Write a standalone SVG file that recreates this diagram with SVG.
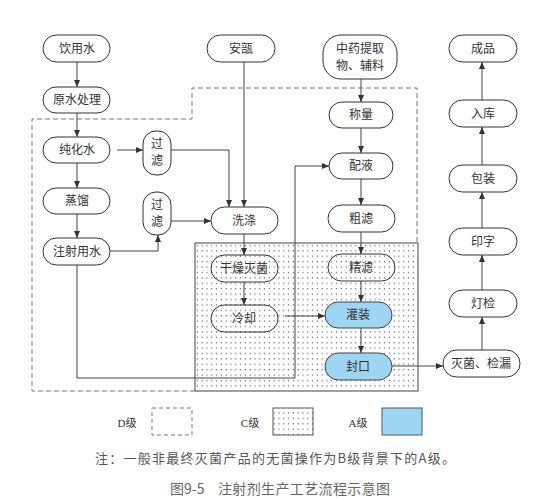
<svg xmlns="http://www.w3.org/2000/svg" width="537" height="502" viewBox="0 0 537 502">
<style>
.n{fill:#fff;stroke:#333;stroke-width:1}
.nc{fill:none;stroke:#333;stroke-width:1}
.na{fill:#9dd5f2;stroke:#444;stroke-width:1}
.t{font-family:"Noto Sans CJK SC","Liberation Serif",serif;font-size:12px;fill:#333;text-anchor:middle}
.c{fill:none;stroke:#444;stroke-width:1}
.lg{font-family:"Liberation Serif","Noto Sans CJK SC",serif;font-size:11px;fill:#333}
</style>
<defs>
<pattern id="dots" x="195" y="243" width="4.8" height="5.4" patternUnits="userSpaceOnUse">
<rect x="1.8" y="2" width="1.1" height="1.1" fill="#444"/>
</pattern>
<marker id="ar" markerWidth="7" markerHeight="6" refX="7" refY="3" orient="auto" markerUnits="userSpaceOnUse">
<path d="M0,0 L7,3 L0,6 z" fill="#333"/>
</marker>
</defs>
<rect width="537" height="502" fill="#fff"/>
<g id="zones">
<rect x="195" y="243" width="223" height="148" fill="url(#dots)" stroke="#666" stroke-width="1.2"/>
<path d="M195,391 H32 V119 H192 V88 H417 V243" fill="none" stroke="#777" stroke-width="1" stroke-dasharray="5,3"/>
</g>
<g id="connectors">
<path class="c" marker-end="url(#ar)" d="M77,62 V87"/>
<path class="c" marker-end="url(#ar)" d="M77,113 V137"/>
<path class="c" marker-end="url(#ar)" d="M77,163 V188"/>
<path class="c" marker-end="url(#ar)" d="M77,214 V238"/>
<path class="c" marker-end="url(#ar)" d="M117,150 H143"/>
<path class="c" marker-end="url(#ar)" d="M171,150 H229 V207"/>
<path class="c" marker-end="url(#ar)" d="M244,62 V207"/>
<path class="c" marker-end="url(#ar)" d="M110,251 H158 V235"/>
<path class="c" marker-end="url(#ar)" d="M171,221 H211"/>
<path class="c" marker-end="url(#ar)" d="M77,265 V378 H295 V166 H329"/>
<path class="c" marker-end="url(#ar)" d="M244,234 V255"/>
<path class="c" marker-end="url(#ar)" d="M244,282 V305"/>
<path class="c" marker-end="url(#ar)" d="M285,316 H325"/>
<path class="c" marker-end="url(#ar)" d="M361,79 V102"/>
<path class="c" marker-end="url(#ar)" d="M361,128 V153"/>
<path class="c" marker-end="url(#ar)" d="M361,179 V205"/>
<path class="c" marker-end="url(#ar)" d="M361,232 V254"/>
<path class="c" marker-end="url(#ar)" d="M361,281 V302"/>
<path class="c" marker-end="url(#ar)" d="M361,328 V353"/>
<path class="c" marker-end="url(#ar)" d="M392,366 H443"/>
<path class="c" marker-end="url(#ar)" d="M482,350 V317"/>
<path class="c" marker-end="url(#ar)" d="M482,290 V255"/>
<path class="c" marker-end="url(#ar)" d="M482,228 V192"/>
<path class="c" marker-end="url(#ar)" d="M482,165 V127"/>
<path class="c" marker-end="url(#ar)" d="M482,100 V62"/>
</g>
<g id="yinyongshui"><rect class="n" x="43" y="35" width="67" height="27" rx="13.5"/><text class="t" x="77" y="53">饮用水</text></g>
<g id="yuanshui"><rect class="n" x="43" y="87" width="67" height="26" rx="13"/><text class="t" x="77" y="104">原水处理</text></g>
<g id="chunhuashui"><rect class="n" x="43" y="137" width="67" height="26" rx="13"/><text class="t" x="77" y="154">纯化水</text></g>
<g id="zhengliu"><rect class="n" x="43" y="188" width="67" height="26" rx="13"/><text class="t" x="77" y="205">蒸馏</text></g>
<g id="zhusheyongshui"><rect class="n" x="43" y="238" width="67" height="27" rx="13.5"/><text class="t" x="77" y="256">注射用水</text></g>
<g id="guolv1"><rect class="n" x="143" y="131" width="28" height="44" rx="13"/><text class="t" x="157" y="148" font-size="11">过</text><text class="t" x="157" y="165" font-size="11">滤</text></g>
<g id="guolv2"><rect class="n" x="143" y="192" width="28" height="43" rx="13"/><text class="t" x="157" y="209" font-size="11">过</text><text class="t" x="157" y="226" font-size="11">滤</text></g>
<g id="anbu"><rect class="n" x="207" y="35" width="68" height="27" rx="13.5"/><text class="t" x="241" y="53">安瓿</text></g>
<g id="xidi"><rect class="n" x="211" y="207" width="67" height="27" rx="13.5"/><text class="t" x="244" y="225">洗涤</text></g>
<g id="ganzao"><rect class="nc" x="211" y="255" width="67" height="27" rx="13.5"/><text class="t" x="244" y="273">干燥灭菌</text></g>
<g id="lengque"><rect class="nc" x="211" y="305" width="67" height="27" rx="13.5"/><text class="t" x="244" y="323">冷却</text></g>
<g id="zhongyao"><rect class="n" x="323" y="35" width="74" height="44" rx="18"/><text class="t" x="360" y="53" font-size="11.5">中药提取</text><text class="t" x="360" y="70" font-size="11.5">物、辅料</text></g>
<g id="chengliang"><rect class="n" x="329" y="102" width="64" height="26" rx="13"/><text class="t" x="361" y="119">称量</text></g>
<g id="peiye"><rect class="n" x="329" y="153" width="64" height="26" rx="13"/><text class="t" x="361" y="170">配液</text></g>
<g id="culv"><rect class="n" x="328" y="205" width="67" height="27" rx="13.5"/><text class="t" x="361" y="223">粗滤</text></g>
<g id="jinglv"><rect class="nc" x="328" y="254" width="67" height="27" rx="13.5"/><text class="t" x="361" y="272">精滤</text></g>
<g id="guanzhuang"><rect class="na" x="325" y="302" width="67" height="26" rx="13"/><text class="t" x="358" y="319">灌装</text></g>
<g id="fengkou"><rect class="na" x="325" y="353" width="67" height="27" rx="13.5"/><text class="t" x="358" y="371">封口</text></g>
<g id="miejun"><rect class="n" x="443" y="350" width="77" height="27" rx="13.5"/><text class="t" x="481" y="368">灭菌、检漏</text></g>
<g id="dengjian"><rect class="n" x="449" y="290" width="68" height="27" rx="13.5"/><text class="t" x="483" y="308">灯检</text></g>
<g id="yinzi"><rect class="n" x="449" y="228" width="68" height="27" rx="13.5"/><text class="t" x="483" y="246">印字</text></g>
<g id="baozhuang"><rect class="n" x="449" y="165" width="68" height="27" rx="13.5"/><text class="t" x="483" y="183">包装</text></g>
<g id="ruku"><rect class="n" x="449" y="100" width="68" height="27" rx="13.5"/><text class="t" x="483" y="118">入库</text></g>
<g id="chengpin"><rect class="n" x="449" y="35" width="68" height="27" rx="13.5"/><text class="t" x="483" y="53">成品</text></g>
<g id="legend">
<text class="lg" x="127" y="427" text-anchor="middle">D级</text>
<rect x="152" y="408" width="40" height="27" fill="none" stroke="#777" stroke-dasharray="4,3"/>
<text class="lg" x="250" y="427" text-anchor="middle">C级</text>
<rect x="273" y="408" width="40" height="27" fill="url(#dots)" stroke="#555"/>
<text class="lg" x="358" y="427" text-anchor="middle">A级</text>
<rect x="382" y="408" width="40" height="27" fill="#9dd5f2" stroke="#557"/>
</g>
<text x="95" y="463" font-family="'Noto Sans CJK SC','Liberation Sans',sans-serif" font-size="13" fill="#555" textLength="360" lengthAdjust="spacing">注：一般非最终灭菌产品的无菌操作为B级背景下的A级。</text>
<text x="170" y="494" font-family="'Noto Sans CJK SC','Liberation Sans',sans-serif" font-size="14" fill="#666">图9-5</text>
<text x="218" y="494" font-family="'Noto Sans CJK SC','Liberation Sans',sans-serif" font-size="14" fill="#666" textLength="172" lengthAdjust="spacing">注射剂生产工艺流程示意图</text>
</svg>
